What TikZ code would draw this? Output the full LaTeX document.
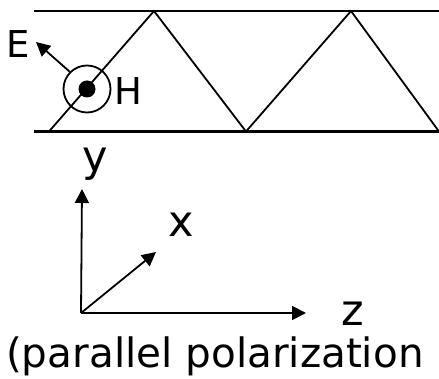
\documentclass[tikz,border=0pt]{standalone}
\usepackage{fontspec}
\setmainfont{DejaVu Sans}
\usetikzlibrary{arrows.meta}
\begin{document}
\begin{tikzpicture}[x=1pt,y=-1pt,
  wall/.style={line width=2.6pt},
  ray/.style={line width=1.8pt},
  arr/.style={line width=1.8pt,-{Triangle[length=14pt,width=14pt]}},
  biglbl/.style={font=\fontsize{43}{43}\selectfont, inner sep=0pt, anchor=base},
  lbl/.style={font=\fontsize{37}{37}\selectfont, inner sep=0pt, anchor=base west},
  caption/.style={font=\fontsize{40.5}{40.5}\selectfont, inner sep=0pt, anchor=base west}]
\useasboundingbox (0,0) rectangle (439,379);
% walls
\coordinate (tl) at (34,11); \coordinate (tr) at (439,11);
\coordinate (bl) at (34,131.5); \coordinate (br) at (439,131.5);
\draw[wall] (tl) -- (tr);
\draw[wall] (bl) -- (br);
% zigzag ray
\coordinate (z0) at (49,131.5);
\coordinate (z1) at (154,11);
\coordinate (z2) at (246,131.5);
\coordinate (z3) at (351,11);
\coordinate (z4) at (439,131.5);
\draw[ray,line join=miter] (z0) -- (z1) -- (z2) -- (z3) -- (z4);
% H field symbol
\node[circle,draw,line width=1.8pt,minimum size=47pt,inner sep=0pt] (hc) at (87,89) {};
\node[circle,fill,minimum size=17pt,inner sep=0pt] (hd) at (hc.center) {};
\node[lbl] (H) at (114,105) {H};
% E field
\coordinate (etip) at (36,42);
\draw[arr] (hc.135) -- (etip);
\node[lbl] (E) at (6,58) {E};
% axes
\coordinate (o) at (81,313);
\coordinate (ytip) at (82,189);
\coordinate (ztip) at (306,313);
\coordinate (xtip) at (156,252);
\draw[arr] (o) -- (ytip);
\draw[arr] (o) -- (ztip);
\draw[arr] (o) -- (xtip);
\node[biglbl] (ly) at (95,171.5) {y};
\node[biglbl] (lx) at (181.5,237) {x};
\node[biglbl] (lz) at (352.5,325) {z};
% caption
\node[caption] (cap) at (6,367) {(parallel polarization};
\end{tikzpicture}
\end{document}
